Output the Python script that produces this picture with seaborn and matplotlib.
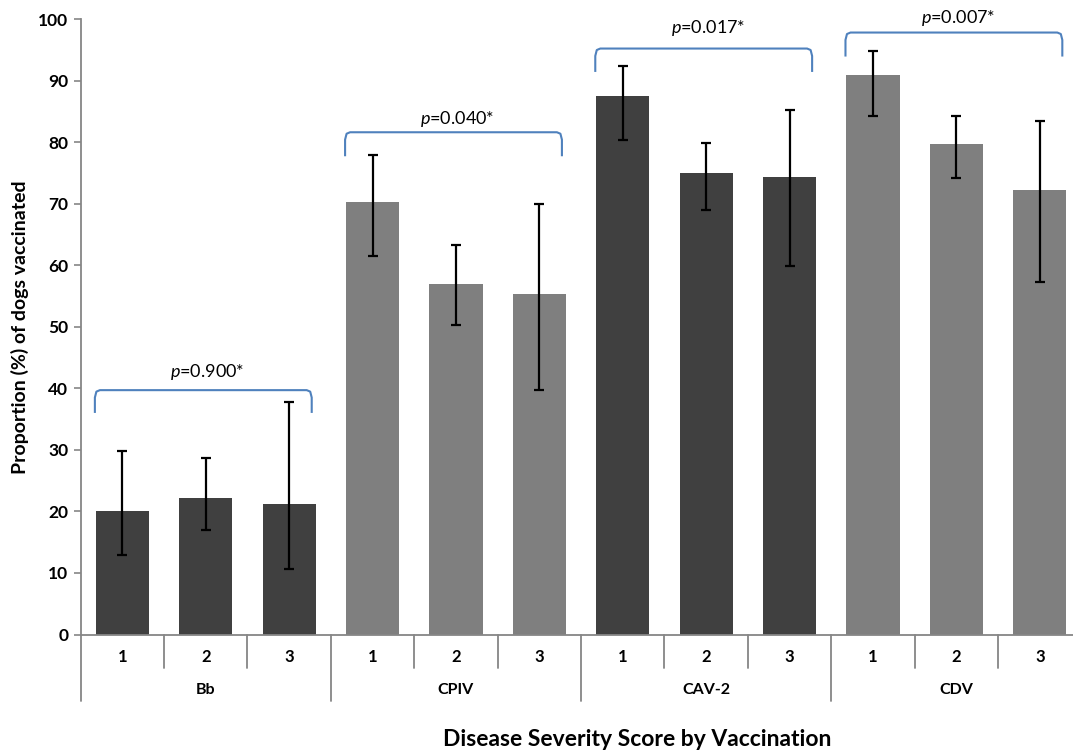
import matplotlib
matplotlib.use("Agg")
import matplotlib.pyplot as plt
import seaborn as sns
import numpy as np
import pandas as pd

# ---- data ----
vaccines = ["Bb", "CPIV", "CAV-2", "CDV"]
scores = ["1", "2", "3"]
values = [20.0, 22.2, 21.2, 70.3, 56.9, 55.3, 87.5, 74.9, 74.4, 90.9, 79.7, 72.2]
err_low = [12.9, 16.9, 10.6, 61.5, 50.3, 39.7, 80.4, 69.0, 59.8, 84.3, 74.2, 57.3]
err_high = [29.8, 28.7, 37.8, 77.9, 63.3, 69.9, 92.4, 79.9, 85.2, 94.8, 84.3, 83.4]
p_labels = ["0.900*", "0.040*", "0.017*", "0.007*"]
bracket_top = [39.7, 81.6, 95.2, 97.8]
bracket_end = [36.0, 77.7, 91.4, 93.9]
p_text_y = [42.6, 83.7, 98.6, 100.2]

group_colors = ["#404040", "#7f7f7f", "#404040", "#7f7f7f"]

sns.set_theme(style="white")
plt.rcParams["font.family"] = ["Lato", "DejaVu Sans"]
plt.rcParams["mathtext.fontset"] = "custom"
plt.rcParams["mathtext.it"] = "Lato:italic"
plt.rcParams["mathtext.rm"] = "Lato"
plt.rcParams["text.color"] = "black"
plt.rcParams["ytick.labelcolor"] = "black"

slots = [f"{v}_{s}" for v in vaccines for s in scores]
df = pd.DataFrame({"slot": slots, "value": values})
palette = {slots[i]: group_colors[i // 3] for i in range(len(slots))}

fig = plt.figure(figsize=(10.73, 7.53), dpi=100)
W, H = 1073, 753
x0, x1 = 80.7, 1081.5
y0, y1 = 634.5, 19.0
ax = fig.add_axes([x0 / W, 1 - y0 / H, (x1 - x0) / W, (y0 - y1) / H])

sns.barplot(data=df, x="slot", y="value", hue="slot", palette=palette,
            order=slots, width=0.64, legend=False, ax=ax, saturation=1,
            edgecolor="none")

xpos = np.arange(len(slots))
vals = np.array(values)
yerr = np.vstack([vals - np.array(err_low), np.array(err_high) - vals])
ax.errorbar(xpos, vals, yerr=yerr, fmt="none", ecolor="black",
            elinewidth=1.6, capsize=3.5, capthick=1.6, zorder=5)

ax.set_xlim(-0.5, 11.5)
ax.set_ylim(0, 100)
ax.set_yticks(np.arange(0, 101, 10))
ax.set_yticklabels([str(v) for v in range(0, 101, 10)], fontsize=12.5,
                   fontweight="bold", color="black")
ax.tick_params(axis="y", which="major", direction="out", length=5,
               width=1.2, color="#868686", pad=4, left=True)
ax.set_xticks([])
ax.set_xlabel("")
ax.set_ylabel("")
for s in ["top", "right"]:
    ax.spines[s].set_visible(False)
for s in ["left", "bottom"]:
    ax.spines[s].set_color("#868686")
    ax.spines[s].set_linewidth(1.3)

# multi-level category axis
ah = y0 - y1
trans = ax.get_xaxis_transform()
for b in np.arange(-0.5, 12.0, 1.0):
    long_sep = (round(b + 0.5) % 3 == 0)
    depth = 66 if long_sep else 33
    ax.plot([b, b], [0, -depth / ah], transform=trans, color="#868686",
            lw=1.3, clip_on=False)
for i, s in enumerate(slots):
    ax.text(i, -22.5 / ah, scores[i % 3], transform=trans, ha="center",
            va="center", fontsize=12, fontweight="bold", color="black")
for g, v in enumerate(vaccines):
    ax.text(g * 3 + 1, -55.5 / ah, v, transform=trans, ha="center",
            va="center", fontsize=11.5, fontweight="bold", color="black")

# significance brackets
for g in range(4):
    a = g * 3 - 0.33
    b = g * 3 + 2 + 0.27
    top, end = bracket_top[g], bracket_end[g]
    dx = 0.06
    dy = 1.2
    xs = [a, a, a + dx * 0.3, a + dx, b - dx, b - dx * 0.3, b, b]
    ys = [end, top - dy, top - dy * 0.2, top, top, top - dy * 0.2, top - dy, end]
    ax.plot(xs, ys, color="#4f81bd", lw=1.5, clip_on=False,
            solid_joinstyle="round", solid_capstyle="butt")
    ax.text(g * 3 + 1.02, p_text_y[g], r"$\it{p}$=" + p_labels[g],
            ha="center", va="center", fontsize=13, clip_on=False,
            color="black")

fig.text(637 / W, 1 - 740 / H, "Disease Severity Score by Vaccination",
         ha="center", va="center", fontsize=16.5, fontweight="bold",
         color="black")
fig.text(20 / W, 1 - 327 / H, "Proportion (%) of dogs vaccinated",
         ha="center", va="center", rotation=90, fontsize=14,
         fontweight="bold", color="black")

fig.savefig("out.png", dpi=100)
